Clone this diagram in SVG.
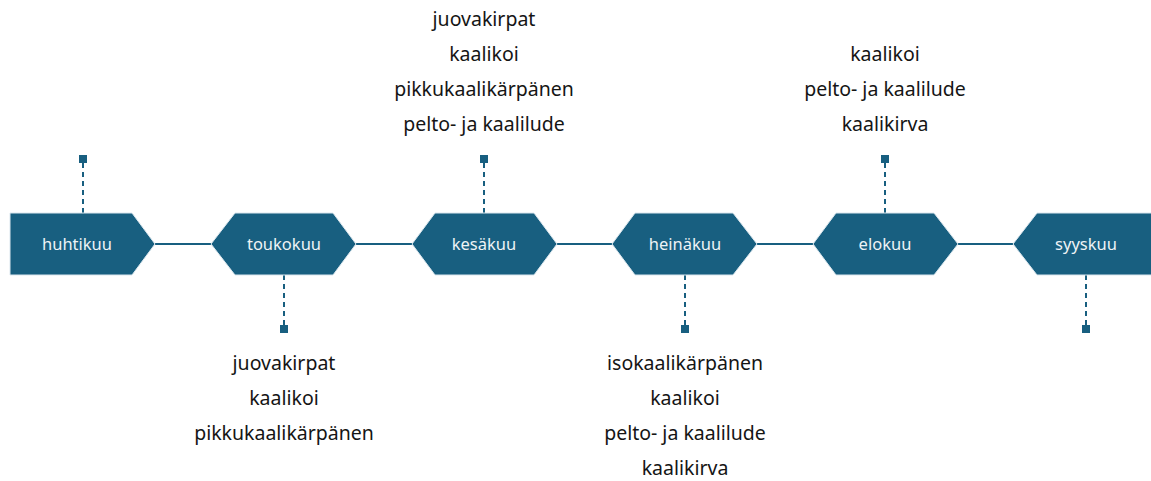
<svg xmlns="http://www.w3.org/2000/svg" width="1151" height="481" viewBox="0 0 1151 481">
<style>
.shape{fill:#185f80;stroke:#dbe7ee;stroke-width:1}
.lbl{font-family:"Noto Sans","Liberation Sans",sans-serif;font-size:16.5px;fill:#eef3f6;text-anchor:middle}
.txt{font-family:"Noto Sans","Liberation Sans",sans-serif;font-size:19.5px;fill:#151515;text-anchor:middle}
.dash{stroke:#185f80;stroke-width:2;stroke-dasharray:5,4;fill:none}
.line{stroke:#185f80;stroke-width:2;fill:none}
.sq{fill:#185f80}
</style>
<rect width="1151" height="481" fill="#ffffff"/>
<g id="connectors">
<line class="line" x1="155" y1="244" x2="1013" y2="244"/>
<line class="dash" x1="83" y1="163" x2="83" y2="213"/>
<line class="dash" x1="284" y1="275" x2="284" y2="325"/>
<line class="dash" x1="484" y1="163" x2="484" y2="213"/>
<line class="dash" x1="685" y1="275" x2="685" y2="325"/>
<line class="dash" x1="885" y1="163" x2="885" y2="213"/>
<line class="dash" x1="1086" y1="275" x2="1086" y2="325"/>
<rect class="sq" x="79" y="155" width="8" height="8"/>
<rect class="sq" x="280" y="325" width="8" height="8"/>
<rect class="sq" x="480" y="155" width="8" height="8"/>
<rect class="sq" x="681" y="325" width="8" height="8"/>
<rect class="sq" x="881" y="155" width="8" height="8"/>
<rect class="sq" x="1082" y="325" width="8" height="8"/>
</g>
<g id="huhtikuu">
<polygon class="shape" points="10,213 132,213 155,244 132,275 10,275"/>
<text class="lbl" x="77" y="250">huhtikuu</text>
</g>
<g id="toukokuu">
<polygon class="shape" points="211,244 235,213 333,213 356,244 333,275 235,275"/>
<text class="lbl" x="284" y="250">toukokuu</text>
<text class="txt" x="284" y="370">juovakirpat</text>
<text class="txt" x="284" y="405">kaalikoi</text>
<text class="txt" x="284" y="440">pikkukaalikärpänen</text>
</g>
<g id="kesakuu">
<polygon class="shape" points="412,244 435,213 534,213 557,244 534,275 435,275"/>
<text class="lbl" x="484" y="250">kesäkuu</text>
<text class="txt" x="484" y="26">juovakirpat</text>
<text class="txt" x="484" y="61">kaalikoi</text>
<text class="txt" x="484" y="96">pikkukaalikärpänen</text>
<text class="txt" x="484" y="131">pelto- ja kaalilude</text>
</g>
<g id="heinakuu">
<polygon class="shape" points="612,244 635,213 733,213 757,244 733,275 635,275"/>
<text class="lbl" x="685" y="250">heinäkuu</text>
<text class="txt" x="685" y="370">isokaalikärpänen</text>
<text class="txt" x="685" y="405">kaalikoi</text>
<text class="txt" x="685" y="440">pelto- ja kaalilude</text>
<text class="txt" x="685" y="475">kaalikirva</text>
</g>
<g id="elokuu">
<polygon class="shape" points="813,244 836,213 934,213 958,244 934,275 836,275"/>
<text class="lbl" x="885" y="250">elokuu</text>
<text class="txt" x="885" y="61">kaalikoi</text>
<text class="txt" x="885" y="96">pelto- ja kaalilude</text>
<text class="txt" x="885" y="131">kaalikirva</text>
</g>
<g id="syyskuu">
<polygon class="shape" points="1013,244 1037,213 1152,213 1152,275 1037,275"/>
<text class="lbl" x="1086" y="250">syyskuu</text>
</g>
</svg>
